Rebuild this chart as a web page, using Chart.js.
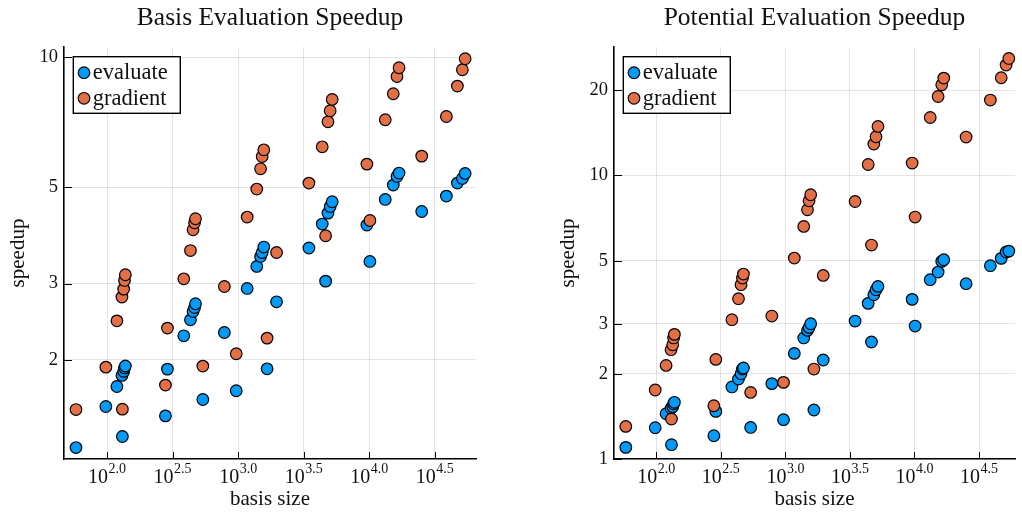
<!DOCTYPE html>
<html>
<head>
<meta charset="utf-8">
<title>Speedup</title>
<script src="https://cdn.jsdelivr.net/npm/chart.js@4.4.1/dist/chart.umd.min.js"></script>
<style>
  html, body { margin: 0; padding: 0; background: #fff; }
  #wrap { position: relative; width: 1022px; height: 515px; }
  canvas { position: absolute; top: 0; }
  #basisChart { left: 0; }
  #potentialChart { left: 550px; }
</style>
</head>
<body>
<div id="wrap">
  <canvas id="basisChart" width="511" height="515"></canvas>
  <canvas id="potentialChart" width="472" height="515"></canvas>
</div>
<script>
// basis sizes shared by all series
const basisSize = [58, 98, 119, 131, 130, 134, 136, 138, 279, 289, 385, 433, 453, 465, 473,
    538, 785, 967, 1172, 1387, 1483, 1525, 1570, 1663, 1963, 3465, 4378, 4645, 4842, 5033, 5214,
    9594, 10115, 13240, 15240, 16270, 16870, 25120, 38730, 46990, 51290, 53830];

// Basis evaluation speedup
const basisEvaluate = [1.254, 1.560, 1.735, 1.330, 1.84, 1.88, 1.915, 1.935, 1.484, 1.903, 2.272,
    2.473, 2.585, 2.641, 2.694, 1.619, 2.312, 1.696, 2.922, 3.285, 3.464, 3.538, 3.642, 1.906, 2.722,
    3.623, 4.115, 3.038, 4.362, 4.519, 4.633, 4.093, 3.373, 4.690, 5.063, 5.300, 5.397, 4.399, 4.775,
    5.117, 5.244, 5.386];
const basisGradient = [1.535, 1.923, 2.460, 1.538, 2.791, 2.912, 3.049, 3.143, 1.748, 2.367, 3.076,
    3.575, 3.993, 4.144, 4.233, 1.934, 2.953, 2.065, 4.271, 4.957, 5.521, 5.893, 6.107, 2.244, 3.538,
    5.117, 6.205, 3.867, 7.089, 7.516, 7.983, 5.660, 4.194, 7.165, 8.228, 9.019, 9.447, 5.906, 7.291,
    8.570, 9.348, 9.910];

// Potential evaluation speedup
const potentialEvaluate = [1.099, 1.289, 1.444, 1.123, 1.51, 1.53, 1.565, 1.585, 1.208, 1.472, 1.795,
    1.915, 1.999, 2.077, 2.094, 1.292, 1.844, 1.376, 2.357, 2.672, 2.841, 2.911, 3.000, 1.489, 2.234,
    3.066, 3.538, 2.586, 3.796, 3.954, 4.061, 3.655, 2.944, 4.288, 4.563, 4.976, 5.045, 4.151, 4.805,
    5.10, 5.37, 5.41];
const potentialGradient = [1.303, 1.751, 2.138, 1.384, 2.429, 2.529, 2.672, 2.751, 1.541, 2.245, 3.099,
    3.675, 4.118, 4.347, 4.490, 1.717, 3.193, 1.863, 5.113, 6.610, 7.569, 8.142, 8.550, 2.076, 4.440,
    8.095, 10.93, 5.683, 12.90, 13.69, 14.89, 11.06, 7.134, 16.01, 18.99, 20.88, 22.05, 13.66, 18.45,
    22.11, 24.51, 25.86];

// tick labels
const xTickExponents = [2.0, 2.5, 3.0, 3.5, 4.0, 4.5];
const basisYTicks = [2, 3, 5, 10];
const potentialYTicks = [1, 2, 3, 5, 10, 20];

const SERIF = "'Liberation Serif', 'DejaVu Serif', serif";
const TEXT = '#111';
const GRID = 'rgba(0,0,0,0.1)';

function points(ys) {
    return basisSize.map((x, i) => ({ x: x, y: ys[i] }));
}

// inner tick marks, 10^x tick labels and the boxed legend
const decor = {
    id: 'decor',
    beforeDatasetsDraw(chart) {
        const { ctx, chartArea: a, scales: { x, y } } = chart;
        ctx.save();
        ctx.strokeStyle = '#000';
        ctx.lineWidth = 1;
        ctx.beginPath();
        x.ticks.forEach(t => {
            const px = Math.round(x.getPixelForValue(t.value)) + 0.5;
            ctx.moveTo(px, a.bottom);
            ctx.lineTo(px, a.bottom - 7);
        });
        y.ticks.forEach(t => {
            const py = Math.round(y.getPixelForValue(t.value)) + 0.5;
            ctx.moveTo(a.left, py);
            ctx.lineTo(a.left + 8, py);
        });
        ctx.stroke();
        ctx.restore();
    },
    afterDraw(chart) {
        const { ctx, chartArea: a, scales: { x } } = chart;
        ctx.save();
        ctx.fillStyle = TEXT;
        ctx.textBaseline = 'alphabetic';
        ctx.textAlign = 'left';
        x.ticks.forEach(t => {
            const px = x.getPixelForValue(t.value);
            const sup = Math.log10(t.value).toFixed(1);
            ctx.font = '20px ' + SERIF;
            const wb = ctx.measureText('10').width;
            ctx.font = '14px ' + SERIF;
            const ws = ctx.measureText(sup).width;
            const left = px - (wb + 0.5 + ws) / 2;
            ctx.font = '20px ' + SERIF;
            ctx.fillText('10', left, a.bottom + 24);
            ctx.font = '14px ' + SERIF;
            ctx.fillText(sup, left + wb + 0.5, a.bottom + 13.5);
        });

        // legend
        const lx = a.left + 9.3, ly = a.top + 9.7;
        ctx.fillStyle = '#fff';
        ctx.fillRect(lx, ly, 107, 56.6);
        ctx.strokeStyle = '#000';
        ctx.lineWidth = 1.4;
        ctx.strokeRect(lx, ly, 107, 56.6);
        chart.data.datasets.forEach((ds, i) => {
            const cy = a.top + 25.7 + i * 25.6;
            ctx.beginPath();
            ctx.arc(a.left + 20, cy, 5.8, 0, Math.PI * 2);
            ctx.fillStyle = ds.backgroundColor;
            ctx.fill();
            ctx.lineWidth = 1.2;
            ctx.strokeStyle = '#000';
            ctx.stroke();
            ctx.fillStyle = TEXT;
            ctx.font = '22.5px ' + SERIF;
            ctx.fillText(ds.label, a.left + 28.7, cy + 6.3);
        });
        ctx.restore();
    }
};

function makeChart(id, title, evalY, gradY, yMin, yMax, yTicks, xMax, padRight) {
    const ctx = document.getElementById(id).getContext('2d');
    return new Chart(ctx, {
        type: 'scatter',
        data: {
            datasets: [
                {
                    label: 'evaluate',
                    data: points(evalY),
                    backgroundColor: '#009AFA',
                    borderColor: '#000',
                    borderWidth: 1.2,
                    pointRadius: 5.8,
                    order: 1,
                    clip: false
                },
                {
                    label: 'gradient',
                    data: points(gradY),
                    backgroundColor: '#E36F47',
                    borderColor: '#000',
                    borderWidth: 1.2,
                    pointRadius: 5.8,
                    order: 0,
                    clip: false
                }
            ]
        },
        options: {
            responsive: false,
            animation: false,
            layout: { padding: { left: 0, right: padRight, top: 0, bottom: 0 } },
            plugins: {
                legend: { display: false },
                tooltip: { enabled: false },
                title: {
                    display: true,
                    text: title,
                    fullSize: false,
                    color: TEXT,
                    font: { family: SERIF, size: 25.5, weight: 'normal', lineHeight: 1.2 },
                    padding: { top: 3, bottom: 13.4 }
                }
            },
            scales: {
                x: {
                    type: 'logarithmic',
                    min: 46.99,
                    max: xMax,
                    afterBuildTicks: s => { s.ticks = xTickExponents.map(e => ({ value: Math.pow(10, e) })); },
                    afterFit: s => { s.height = 56; },
                    ticks: { display: false },
                    grid: { color: GRID, lineWidth: 1, drawTicks: false },
                    border: { display: true, color: '#000', width: 1.6 },
                    title: {
                        display: true,
                        text: 'basis size',
                        color: TEXT,
                        font: { family: SERIF, size: 21, lineHeight: 1.2 },
                        padding: { top: 0, bottom: 3 }
                    }
                },
                y: {
                    type: 'logarithmic',
                    min: yMin,
                    max: yMax,
                    afterBuildTicks: s => { s.ticks = yTicks.map(v => ({ value: v })); },
                    afterFit: s => { s.width = 64; },
                    ticks: {
                        autoSkip: false,
                        padding: 6,
                        color: TEXT,
                        font: { family: SERIF, size: 18.5 },
                        callback: v => String(v)
                    },
                    grid: { color: GRID, lineWidth: 1, drawTicks: false },
                    border: { display: true, color: '#000', width: 1.6 },
                    title: {
                        display: true,
                        text: 'speedup',
                        color: TEXT,
                        font: { family: SERIF, size: 21, lineHeight: 1.2 },
                        padding: { top: 6, bottom: 0 }
                    }
                }
            }
        },
        plugins: [decor]
    });
}

makeChart('basisChart', 'Basis Evaluation Speedup', basisEvaluate, basisGradient,
    1.18, 10.55, basisYTicks, 65160, 35);
makeChart('potentialChart', 'Potential Evaluation Speedup', potentialEvaluate, potentialGradient,
    1, 28.38, potentialYTicks, 60100, 1);
</script>
</body>
</html>
